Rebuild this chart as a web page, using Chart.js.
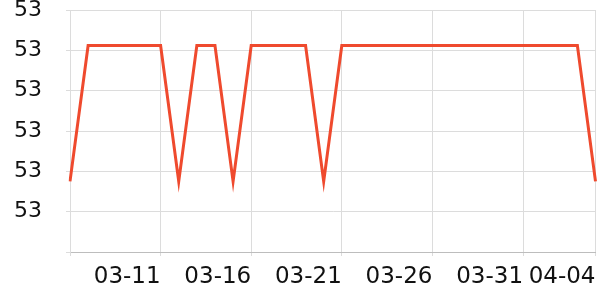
<!DOCTYPE html>
<html>
<head>
<meta charset="utf-8">
<script src="https://cdn.jsdelivr.net/npm/chart.js@4"></script>
<style>
  html, body { margin: 0; padding: 0; background: #fff; }
  #wrap { width: 600px; height: 300px; }
</style>
</head>
<body>
<div id="wrap"><canvas id="chart" width="600" height="300"></canvas></div>
<script>
  // dates shown on the x axis (every day, labels every 5th)
  const dates = [
    "03-06", "03-07", "03-08", "03-09", "03-10", "03-11", "03-12", "03-13",
    "03-14", "03-15", "03-16", "03-17", "03-18", "03-19", "03-20", "03-21",
    "03-22", "03-23", "03-24", "03-25", "03-26", "03-27", "03-28", "03-29",
    "03-30", "03-31", "04-01", "04-02", "04-03", "04-04",
  ];
  const labelIdx = [5, 10, 15, 20, 25, 29];

  // values all round to 53, so only the shape is readable
  const values = [
    53.0175, 53.0512, 53.0512, 53.0512, 53.0512, 53.0512, 53.0175, 53.0512,
    53.0512, 53.0175, 53.0512, 53.0512, 53.0512, 53.0512, 53.0175, 53.0512,
    53.0512, 53.0512, 53.0512, 53.0512, 53.0512, 53.0512, 53.0512, 53.0512,
    53.0512, 53.0512, 53.0512, 53.0512, 53.0512, 53.0175,
  ];

  const yMin = 53.0;
  const yMax = 53.06;
  const yStep = 0.01;

  const ctx = document.getElementById("chart").getContext("2d");
  new Chart(ctx, {
    type: "line",
    data: {
      labels: dates,
      datasets: [
        {
          data: values,
          borderColor: "#ef4a2e",
          borderWidth: 3,
          pointRadius: 0,
          tension: 0,
          fill: false,
        },
      ],
    },
    options: {
      responsive: false,
      animation: false,
      layout: { padding: { top: 0, right: 4.5, left: 0, bottom: 0 } },
      plugins: { legend: { display: false }, tooltip: { enabled: false } },
      scales: {
        x: {
          offset: false,
          border: { color: "#bdbdbd" },
          grid: {
            color: (c) => (c.index === dates.length - 1 ? "rgba(0,0,0,0)" : "#dcdcdc"),
            tickLength: 4,
          },
          ticks: {
            autoSkip: false,
            maxRotation: 0,
            align: "end",
            padding: 7,
            color: "#111",
            font: { family: "DejaVu Sans", size: 23 },
            callback: function (v, i) {
              if (i === 0) return "";
              return labelIdx.includes(i) ? dates[i] : null;
            },
          },
          afterFit: (s) => {
            s.height = 48;
            s.paddingRight = 0;
            s.paddingLeft = 0;
          },
        },
        y: {
          min: yMin,
          max: yMax,
          border: { color: "#dcdcdc" },
          grid: { color: "#dcdcdc", tickLength: 4 },
          ticks: {
            stepSize: yStep,
            padding: 24,
            color: "#111",
            font: { family: "DejaVu Sans", size: 22 },
            callback: function (v, i) {
              if (i === 0) return "";
              return Math.round(v).toString();
            },
          },
          afterFit: (s) => {
            s.width = 70;
            s.paddingTop = 10;
            s.paddingBottom = 0;
          },
        },
      },
    },
  });
</script>
</body>
</html>
